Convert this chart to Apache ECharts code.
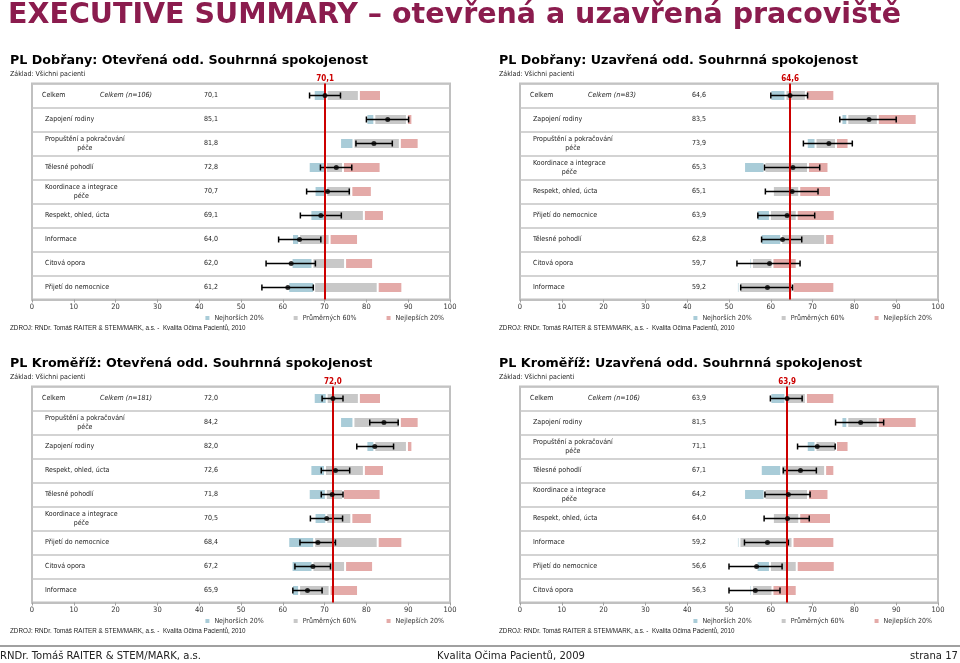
<!DOCTYPE html>
<html><head><meta charset="utf-8">
<script src="https://cdn.jsdelivr.net/npm/echarts@6/dist/echarts.min.js"></script>
<style>html,body{margin:0;padding:0;background:#fff}#c{width:960px;height:663px}</style>
</head><body><div id="c"></div>
<script>
// ---------- texts ----------
const headerTitle = 'EXECUTIVE SUMMARY – otevřená a uzavřená pracoviště';
const footerLeft = 'RNDr. Tomáš RAITER & STEM/MARK, a.s.';
const footerCenter = 'Kvalita Očima Pacientů, 2009';
const footerRight = 'strana 17';
const sourceText = 'ZDROJ: RNDr. Tomáš RAITER & STEM/MARK, a.s. -  Kvalita Očima Pacientů, 2010';
const baseText = 'Základ: Všichni pacienti';
const legendNames = ['Nejhorších 20%', 'Průměrných 60%', 'Nejlepších 20%'];
const xTicks = [0, 10, 20, 30, 40, 50, 60, 70, 80, 90, 100];

// ---------- panel 1: Dobřany open ----------
const p1Title = 'PL Dobřany: Otevřená odd. Souhrnná spokojenost';
const p1N = 'Celkem (n=106)';
const p1Total = 70.1;
const p1Categories = ['Celkem', 'Zapojení rodiny', 'Propuštění a pokračování\npéče', 'Tělesné pohodlí', 'Koordinace a integrace\npéče', 'Respekt, ohled, úcta', 'Informace', 'Citová opora', 'Přijetí do nemocnice'];
const p1Values = [70.1, 85.1, 81.8, 72.8, 70.7, 69.1, 64.0, 62.0, 61.2];
const p1ErrLow = [66.4, 80.0, 77.5, 69.0, 65.7, 64.2, 59.0, 56.0, 55.0];
const p1ErrHigh = [73.8, 90.1, 86.2, 76.5, 75.9, 74.0, 69.1, 67.8, 67.3];
const p1WorstFrom = [67.4, 80.0, 73.7, 66.2, 67.6, 66.6, 62.2, 62.1, 61.3];
const p1AvgFrom = [70.5, 81.9, 76.9, 70.3, 70.4, 70.1, 63.9, 67.1, 67.5];
const p1BestFrom = [78.2, 89.7, 88.0, 74.4, 76.4, 79.4, 71.2, 74.9, 82.7];
const p1BestTo = [83.5, 91.0, 92.5, 83.4, 81.3, 84.2, 78.0, 81.6, 88.6];

// ---------- panel 2: Dobřany closed ----------
const p2Title = 'PL Dobřany: Uzavřená odd. Souhrnná spokojenost';
const p2N = 'Celkem (n=83)';
const p2Total = 64.6;
const p2Categories = ['Celkem', 'Zapojení rodiny', 'Propuštění a pokračování\npéče', 'Koordinace a integrace\npéče', 'Respekt, ohled, úcta', 'Přijetí do nemocnice', 'Tělesné pohodlí', 'Citová opora', 'Informace'];
const p2Values = [64.6, 83.5, 73.9, 65.3, 65.1, 63.9, 62.8, 59.7, 59.2];
const p2ErrLow = [60.0, 76.5, 67.8, 58.5, 58.7, 56.9, 57.8, 51.9, 52.8];
const p2ErrHigh = [68.8, 90.0, 79.5, 71.7, 71.3, 70.5, 67.4, 67.0, 65.2];
const p2WorstFrom = [59.9, 76.9, 68.6, 53.6, 60.2, 56.6, 57.6, 54.9, 51.9];
const p2AvgFrom = [63.5, 78.3, 70.7, 58.5, 60.5, 59.8, 62.5, 55.5, 52.5];
const p2BestFrom = [68.4, 85.6, 75.6, 68.9, 66.8, 66.2, 73.0, 60.4, 65.2];
const p2BestTo = [75.2, 94.9, 78.6, 73.8, 74.4, 75.3, 75.2, 66.2, 75.2];

// ---------- panel 3: Kroměříž open ----------
const p3Title = 'PL Kroměříž: Otevřená odd. Souhrnná spokojenost';
const p3N = 'Celkem (n=181)';
const p3Total = 72.0;
const p3Categories = ['Celkem', 'Propuštění a pokračování\npéče', 'Zapojení rodiny', 'Respekt, ohled, úcta', 'Tělesné pohodlí', 'Koordinace a integrace\npéče', 'Přijetí do nemocnice', 'Citová opora', 'Informace'];
const p3Values = [72.0, 84.2, 82.0, 72.6, 71.8, 70.5, 68.4, 67.2, 65.9];
const p3ErrLow = [69.4, 80.8, 77.7, 69.2, 69.2, 66.6, 64.1, 62.9, 62.4];
const p3ErrHigh = [74.4, 87.6, 86.5, 76.0, 74.4, 74.3, 72.6, 71.4, 69.4];
const p3WorstFrom = [67.4, 73.7, 80.0, 66.6, 66.2, 67.6, 61.3, 62.1, 62.2];
const p3AvgFrom = [70.5, 76.9, 81.9, 70.1, 70.3, 70.4, 67.5, 67.1, 63.9];
const p3BestFrom = [78.2, 88.0, 89.7, 79.4, 74.4, 76.4, 82.7, 74.9, 71.2];
const p3BestTo = [83.5, 92.5, 91.0, 84.2, 83.4, 81.3, 88.6, 81.6, 78.0];

// ---------- panel 4: Kroměříž closed ----------
const p4Title = 'PL Kroměříž: Uzavřená odd. Souhrnná spokojenost';
const p4N = 'Celkem (n=106)';
const p4Total = 63.9;
const p4Categories = ['Celkem', 'Zapojení rodiny', 'Propuštění a pokračování\npéče', 'Tělesné pohodlí', 'Koordinace a integrace\npéče', 'Respekt, ohled, úcta', 'Informace', 'Přijetí do nemocnice', 'Citová opora'];
const p4Values = [63.9, 81.5, 71.1, 67.1, 64.2, 64.0, 59.2, 56.6, 56.3];
const p4ErrLow = [59.9, 75.5, 66.4, 63.0, 58.6, 58.4, 53.7, 50.0, 50.0];
const p4ErrHigh = [67.5, 87.0, 75.4, 70.9, 69.4, 69.2, 64.2, 62.7, 62.2];
const p4WorstFrom = [59.9, 76.9, 68.6, 57.6, 53.6, 60.2, 51.9, 56.6, 54.9];
const p4AvgFrom = [63.5, 78.3, 70.7, 62.5, 58.5, 60.5, 52.5, 59.8, 55.5];
const p4BestFrom = [68.4, 85.6, 75.6, 73.0, 68.9, 66.8, 65.2, 66.2, 60.4];
const p4BestTo = [75.2, 94.9, 78.6, 75.2, 73.8, 74.4, 75.2, 75.3, 66.2];

// ---------- styling / layout ----------
const COLORS = ['#A9CCD8', '#C8C8C8', '#E4AAA8'];
const RED = '#CC0000';
const FONT = '"DejaVu Sans Condensed", "DejaVu Sans", sans-serif';
const WIDE = '"DejaVu Sans", sans-serif';
const LABEL_SIZE = 7;
const BAR_H = 9;
const PANELS = [
  {t: p1Title, n: p1N, tot: p1Total, cats: p1Categories, vals: p1Values, lo: p1ErrLow, hi: p1ErrHigh, b: [p1WorstFrom, p1AvgFrom, p1BestFrom, p1BestTo]},
  {t: p2Title, n: p2N, tot: p2Total, cats: p2Categories, vals: p2Values, lo: p2ErrLow, hi: p2ErrHigh, b: [p2WorstFrom, p2AvgFrom, p2BestFrom, p2BestTo]},
  {t: p3Title, n: p3N, tot: p3Total, cats: p3Categories, vals: p3Values, lo: p3ErrLow, hi: p3ErrHigh, b: [p3WorstFrom, p3AvgFrom, p3BestFrom, p3BestTo]},
  {t: p4Title, n: p4N, tot: p4Total, cats: p4Categories, vals: p4Values, lo: p4ErrLow, hi: p4ErrHigh, b: [p4WorstFrom, p4AvgFrom, p4BestFrom, p4BestTo]}
];
const POS = [
  {left: 32, top: 83.5, tx: 10},
  {left: 520, top: 83.5, tx: 499},
  {left: 32, top: 386.5, tx: 10},
  {left: 520, top: 386.5, tx: 499}
];
const GW = 418, GH = 216;

const fmt = v => v.toFixed(1).replace('.', ',');
const mctx = document.createElement('canvas').getContext('2d');
function measure(s, font) { mctx.font = font; return mctx.measureText(s).width; }

function txt(s, x, y, align, font, fill) {
  return {type: 'text', style: {text: s, x: x, y: y, align: align, verticalAlign: 'middle', font: font, fill: fill || '#222'}};
}

function bandRender(params, api) {
  const a = api.coord([api.value(0), api.value(2)]);
  const b = api.coord([api.value(1), api.value(2)]);
  const x0 = Math.min(a[0], b[0]) + 1, x1 = Math.max(a[0], b[0]) - 1;
  if (x1 - x0 <= 0.3) return null;
  return {type: 'rect', shape: {x: x0, y: a[1] - BAR_H / 2, width: x1 - x0, height: BAR_H}, style: {fill: api.visual('color')}};
}
function errRender(params, api) {
  const a = api.coord([api.value(0), api.value(2)]);
  const b = api.coord([api.value(1), api.value(2)]);
  const st = {stroke: '#000', lineWidth: 1.5};
  return {type: 'group', children: [
    {type: 'line', shape: {x1: a[0], y1: a[1], x2: b[0], y2: b[1]}, style: st},
    {type: 'line', shape: {x1: a[0], y1: a[1] - 3, x2: a[0], y2: a[1] + 3}, style: st},
    {type: 'line', shape: {x1: b[0], y1: b[1] - 3, x2: b[0], y2: b[1] + 3}, style: st}
  ]};
}
function labelRenderFor(P) {
  const font = LABEL_SIZE + 'px ' + FONT;
  return function (params, api) {
    const j = api.value(1);
    const pt = api.coord([0, j]);
    const x = pt[0], y = pt[1];
    const ch = [];
    const cat = P.cats[j];
    if (j === 0) {
      ch.push(txt(cat, x + 10, y, 'left', font));
      ch.push(txt(P.n, x + 68, y, 'left', 'italic ' + font));
    } else {
      const lines = cat.split('\n');
      if (lines.length === 1) {
        ch.push(txt(cat, x + 13, y, 'left', font));
      } else {
        const w = measure(lines[0], font);
        ch.push(txt(lines[0], x + 13, y - 4, 'left', font));
        ch.push(txt(lines[1], x + 13 + w / 2, y + 4.5, 'center', font));
      }
    }
    ch.push(txt(fmt(P.vals[j]), x + 172, y, 'left', font));
    return {type: 'group', children: ch};
  };
}

const grids = [], xAxes = [], yAxes = [], series = [], legends = [], graphics = [];
PANELS.forEach((P, i) => {
  const L = POS[i];
  grids.push({left: L.left, top: L.top, width: GW, height: GH, show: true, borderColor: '#C0C0C0', borderWidth: 2, containLabel: false});
  xAxes.push({
    type: 'value', gridIndex: i, min: xTicks[0], max: xTicks[xTicks.length - 1], interval: xTicks[1] - xTicks[0],
    axisLine: {show: true, lineStyle: {color: '#C0C0C0', width: 2}},
    axisTick: {show: true, length: 3, lineStyle: {color: '#A0A0A0'}},
    axisLabel: {fontSize: 7.5, color: '#333', margin: 4, fontFamily: FONT},
    splitLine: {show: false}
  });
  yAxes.push({
    type: 'category', gridIndex: i, data: P.cats, inverse: true,
    axisLine: {show: false}, axisTick: {show: false}, axisLabel: {show: false},
    splitLine: {show: true, interval: 0, lineStyle: {color: '#C4C4C4', width: 1.5}}
  });
  for (let k = 0; k < 3; k++) {
    series.push({
      type: 'custom', name: legendNames[k], xAxisIndex: i, yAxisIndex: i, silent: true, z: 2,
      itemStyle: {color: COLORS[k]}, renderItem: bandRender, encode: {x: [0, 1], y: 2},
      data: P.cats.map((c, j) => [P.b[k][j], P.b[k + 1][j], j])
    });
  }
  series.push({
    type: 'scatter', xAxisIndex: i, yAxisIndex: i, silent: true, z: 3, data: [],
    markLine: {
      silent: true, symbol: ['none', 'none'], animation: false,
      lineStyle: {color: RED, width: 2, type: 'solid'},
      label: {show: true, position: 'start', distance: 1, formatter: fmt(P.tot), color: RED, fontWeight: 'bold', fontSize: 8, fontFamily: FONT},
      data: [{xAxis: P.tot}]
    }
  });
  series.push({
    type: 'custom', xAxisIndex: i, yAxisIndex: i, silent: true, z: 4, renderItem: errRender,
    encode: {x: [0, 1], y: 2}, data: P.lo.map((l, j) => [l, P.hi[j], j])
  });
  series.push({
    type: 'scatter', xAxisIndex: i, yAxisIndex: i, silent: true, z: 5, symbolSize: 5,
    itemStyle: {color: '#000'}, data: P.vals.map((v, j) => [v, j])
  });
  series.push({
    type: 'custom', xAxisIndex: i, yAxisIndex: i, silent: true, z: 6, renderItem: labelRenderFor(P),
    encode: {x: 0, y: 1}, data: P.cats.map((c, j) => [0, j])
  });
  legends.push({
    data: legendNames, selectedMode: false, icon: 'rect', itemWidth: 4, itemHeight: 4, itemGap: 30, padding: 0,
    right: 960 - (L.left + GW - 6), top: L.top + GH + 15,
    textStyle: {fontSize: 7, color: '#333', fontFamily: FONT}
  });
  graphics.push({type: 'text', x: L.tx, y: L.top - 23, style: {text: P.t, font: 'bold 12.7px ' + WIDE, fill: '#000', verticalAlign: 'middle'}});
  graphics.push({type: 'text', x: L.tx, y: L.top - 9, style: {text: baseText, font: '7px ' + FONT, fill: '#222', verticalAlign: 'middle'}});
  graphics.push({type: 'text', x: L.tx, y: L.top + GH + 29, style: {text: sourceText, font: '6.3px "Liberation Sans", sans-serif', fill: '#222', verticalAlign: 'middle'}});
});
graphics.push({type: 'text', x: 8, y: 16, style: {text: headerTitle, font: 'bold 28.5px ' + WIDE, fill: '#8B1C4E', verticalAlign: 'middle'}});
graphics.push({type: 'line', shape: {x1: 0, y1: 646, x2: 960, y2: 646}, style: {stroke: '#A0A0A0', lineWidth: 2}});
graphics.push({type: 'text', x: 0, y: 656, style: {text: footerLeft, font: '11.2px ' + FONT, fill: '#222', verticalAlign: 'middle'}});
graphics.push({type: 'text', x: 511, y: 656, style: {text: footerCenter, font: '11.2px ' + FONT, fill: '#222', verticalAlign: 'middle', align: 'center'}});
graphics.push({type: 'text', x: 958, y: 656, style: {text: footerRight, font: '11.2px ' + FONT, fill: '#222', verticalAlign: 'middle', align: 'right'}});

const chart = echarts.init(document.getElementById('c'), null, {renderer: 'canvas'});
chart.setOption({
  animation: false, backgroundColor: '#fff',
  grid: grids, xAxis: xAxes, yAxis: yAxes, series: series, legend: legends, graphic: graphics
});
</script></body></html>
